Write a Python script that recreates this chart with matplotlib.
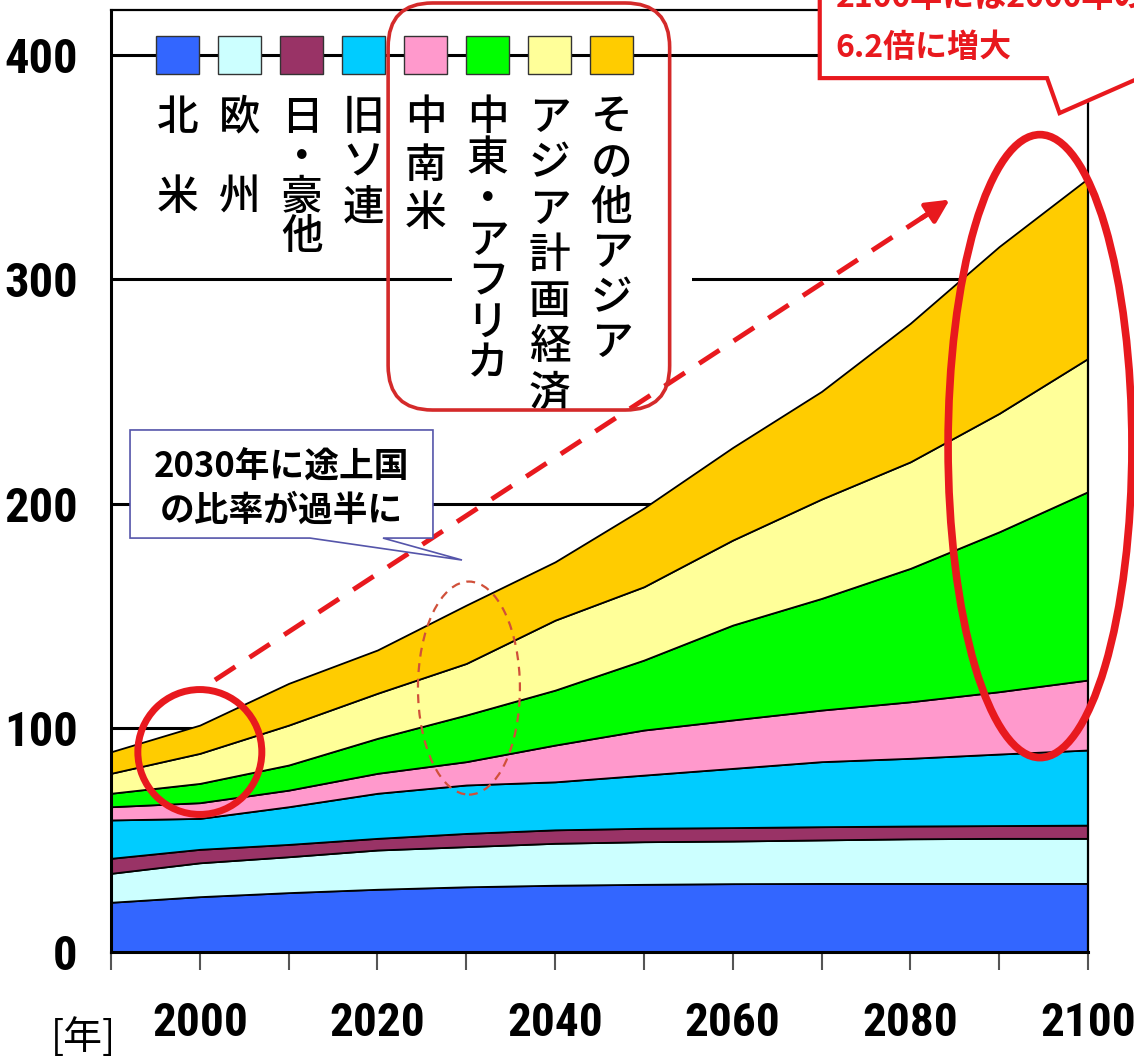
import matplotlib
matplotlib.use('Agg')
import matplotlib.pyplot as plt
from matplotlib import font_manager
from matplotlib.patches import Rectangle, Ellipse, FancyBboxPatch, Polygon

plt.rcParams['font.family'] = ['Noto Sans CJK JP', 'DejaVu Sans']

# 地域別エネルギー需要の見通し
years = [1990, 2000, 2010, 2020, 2030, 2040, 2050, 2060, 2070, 2080, 2090, 2100]
north_america = [22.2, 24.7, 26.5, 28.0, 29.1, 29.8, 30.2, 30.5, 30.6, 30.6, 30.6, 30.6]
europe = [12.9, 15.1, 16.0, 17.5, 17.9, 18.7, 19.0, 19.0, 19.4, 19.9, 20.1, 20.1]
japan_aus = [6.7, 6.0, 5.5, 5.2, 5.9, 6.0, 6.0, 6.0, 5.9, 5.7, 5.7, 5.9]
former_ussr = [17.1, 13.8, 16.8, 20.1, 21.6, 21.4, 23.7, 26.4, 29.0, 30.2, 31.9, 33.5]
latin_america = [5.9, 7.0, 7.4, 8.9, 10.4, 16.4, 20.1, 21.6, 23.0, 25.2, 27.8, 31.2]
mideast_africa = [6.0, 8.6, 11.2, 15.6, 20.8, 24.5, 31.2, 42.3, 49.8, 59.5, 71.3, 84.0]
asia_planned = [8.9, 13.4, 17.8, 20.1, 23.0, 31.2, 32.7, 37.9, 44.3, 47.5, 52.8, 59.4]
other_asia = [9.6, 12.6, 18.6, 19.3, 26.0, 26.0, 35.1, 41.3, 48.0, 61.8, 74.4, 80.3]

regions = ['北米', '欧州', '日・豪他', '旧ソ連', '中南米', '中東・アフリカ', 'アジア計画経済', 'その他アジア']
colors = ['#3366ff', '#ccffff', '#993366', '#00ccff', '#ff99cc', '#00ff00', '#ffff99', '#ffcc00']

y_ticks = [0, 100, 200, 300, 400]
x_label_years = [2000, 2020, 2040, 2060, 2080, 2100]

red = '#e8191e'

# 軸の数字は細身の書体があればそれを使う
installed = {f.name for f in font_manager.fontManager.ttflist}
narrow = [n for n in ['Liberation Sans Narrow', 'Roboto Condensed', 'Open Sans Condensed',
                      'DejaVu Sans Condensed'] if n in installed]
if narrow:
    num_font, y_size, x_size = [narrow[0], 'DejaVu Sans'], 35, 34
else:
    num_font, y_size, x_size = ['Liberation Sans', 'DejaVu Sans'], 27, 27

fig = plt.figure(figsize=(11.34, 10.59), dpi=100)
ax = fig.add_axes([0.0979, 0.1010, 0.8615, 0.8894])

series = [north_america, europe, japan_aus, former_ussr,
          latin_america, mideast_africa, asia_planned, other_asia]
ax.stackplot(years, *series, colors=colors, edgecolor='black', linewidth=1.3, zorder=2)

ax.set_xlim(1990, 2100)
ax.set_ylim(0, 420)
ax.set_axisbelow(True)
ax.yaxis.grid(True, color='black', linewidth=2.2)
ax.set_yticks(y_ticks)
ax.set_yticklabels([str(v) for v in y_ticks], family=num_font, weight='bold',
                   fontsize=y_size, fontstretch='condensed')
ax.set_xticks(range(1990, 2101, 10))
ax.set_xticklabels([str(y) if y in x_label_years else '' for y in range(1990, 2101, 10)],
                   family=num_font, weight='bold', fontsize=x_size, fontstretch='condensed')
ax.tick_params(axis='x', direction='out', length=13, width=1.5, color='#555555', pad=22)
ax.tick_params(axis='y', length=0, pad=24)
for side in ['left', 'bottom']:
    ax.spines[side].set_linewidth(2.2)
for side in ['top', 'right']:
    ax.spines[side].set_linewidth(1.6)

fig.text(0.074, 0.02, '[年]', fontsize=28, ha='center', va='center')

# 凡例（色見本と縦書きの地域名）
steps = [35.7, 35.7, 17.8, 20.0, 21.4, 18.3, 20.5, 20.1]
for i, (name, c) in enumerate(zip(regions, colors)):
    cx = 1997.5 + 6.98 * i
    ax.add_patch(Rectangle((cx - 2.42, 400 - 8.45), 4.84, 16.9, facecolor=c,
                           edgecolor='#333333', linewidth=1.0, zorder=3))
    for j, ch in enumerate(name):
        ax.text(cx, 372.3 - j * steps[i], ch, fontsize=30, weight='medium',
                ha='center', va='center', zorder=4)

# 凡例下の白抜き
ax.add_patch(Rectangle((2028.4, 255), 27.0, 75, facecolor='white', edgecolor='none', zorder=1))

# 途上国の凡例を囲む枠
ax.add_patch(FancyBboxPatch((2021.2, 241.7), 31.7, 181.5,
                            boxstyle='round,pad=0,rounding_size=5', mutation_aspect=3.96,
                            facecolor='none', edgecolor='#d42a2a', linewidth=2.6,
                            clip_on=False, zorder=6))

# 増加傾向の矢印
ax.plot([2001.7, 2082.0], [121.3, 329.2], color=red, linewidth=3.5,
        dashes=(5, 3.5), zorder=5)
ax.annotate('', xy=(2084.7, 336.2), xytext=(2081.0, 326.6),
            arrowprops=dict(arrowstyle='-|>,head_length=1.4,head_width=0.7',
                            color=red, linewidth=3.5), zorder=5)

# 強調の楕円
ax.add_patch(Ellipse((2000.0, 89.2), 13.96, 55.7, facecolor='none', edgecolor=red,
                     linewidth=5, zorder=5))
ax.add_patch(Ellipse((2030.3, 117.7), 11.48, 95.0, facecolor='none', edgecolor='#d0503a',
                     linewidth=1.6, linestyle=(0, (4, 3)), zorder=5))
ax.add_patch(Ellipse((2094.6, 225.6), 20.7, 277.8, facecolor='none', edgecolor=red,
                     linewidth=5.5, clip_on=False, zorder=5))

# 吹き出し：2030年
ax.add_patch(Polygon([(1992.14, 232.8), (2026.25, 232.8), (2026.25, 184.6),
                      (2020.62, 184.6), (2029.52, 174.8), (2012.4, 184.6),
                      (1992.14, 184.6)], closed=True, facecolor='white',
                     edgecolor='#5555aa', linewidth=1.2, zorder=6))
ax.text(2009.2, 216.3, '2030年に途上国', fontsize=25, weight='bold',
        ha='center', va='center', zorder=7)
ax.text(2009.2, 197.1, 'の比率が過半に', fontsize=25, weight='bold',
        ha='center', va='center', zorder=7)

# 吹き出し：2100年
ax.add_patch(Polygon([(2069.8, 440), (2069.8, 389.7), (2095.4, 389.7),
                      (2096.8, 374.1), (2110.4, 397.8), (2110.4, 440)], closed=True,
                     facecolor='white', edgecolor=red, linewidth=3, clip_on=False, zorder=8))
ax.text(2071.6, 425.6, '2100年には2000年の', fontsize=23, weight='bold', color=red,
        ha='left', va='center', clip_on=False, zorder=9)
ax.text(2071.6, 403.1, '6.2倍に増大', fontsize=23, weight='bold', color=red,
        ha='left', va='center', clip_on=False, zorder=9)

fig.savefig('out.png', dpi=100)
